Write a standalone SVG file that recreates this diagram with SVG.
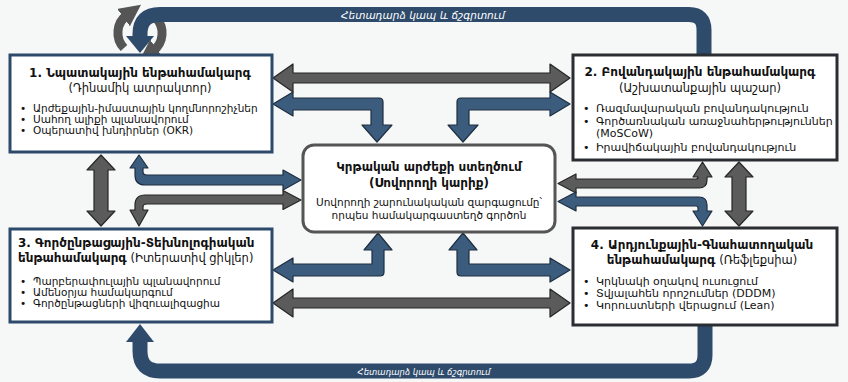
<svg xmlns="http://www.w3.org/2000/svg" width="848" height="382" viewBox="0 0 848 382">
<defs>
<style>
.bg{fill:#f6f7f7}
.boxb{fill:#ffffff;stroke:#2d4a6a;stroke-width:3}
.boxk{fill:#ffffff;stroke:#2a2e33;stroke-width:3}
.core{fill:#ffffff;stroke:#555;stroke-width:3}
.t{font-family:"DejaVu Sans",sans-serif;fill:#111}
.ttl{font-size:12px;font-weight:bold}
.sub{font-size:11.5px}
.li{font-size:10.5px}
.lj{font-size:11px}
.blue{fill:#3c5c7e;stroke:#1e2e40;stroke-width:1.2;stroke-linejoin:round}
.gray{fill:#5b5b5b;stroke:#262626;stroke-width:1.2;stroke-linejoin:round}
.band{fill:none;stroke:#2f4b6c;stroke-width:15}
.lbl{font-family:"DejaVu Sans",sans-serif;fill:#fff;font-style:italic}
.cyc{fill:none;stroke:#555;stroke-width:9}
</style>
<marker id="ch" viewBox="0 0 10 10" refX="2" refY="5" markerWidth="2.4" markerHeight="2.4" orient="auto"><path d="M0,0 L10,5 L0,10 Z" fill="#555"/></marker>
</defs>
<rect class="bg" x="0" y="0" width="848" height="382"/>

<g id="cycle-icon">
<path class="cyc" d="M124,48 A22,22 0 0 1 127,15" marker-end="url(#ch)"/>
<path class="cyc" d="M156,18 A22,22 0 0 1 153,51" marker-end="url(#ch)"/>
</g>

<g id="connectors">
<g id="feedback-top">
<path class="band" d="M704,55 V30 Q704,14.5 689,14.5 H160 Q140,14.5 140,34 V37"/>
<polygon points="126,36 154,36 140,53" fill="#2f4b6c"/>
<text class="lbl" x="423" y="19" font-size="10.5" text-anchor="middle">Հետադարձ կապ և ճշգրտում</text>
</g>
<g id="feedback-bottom">
<path class="band" d="M705,325 V355 Q705,371 689,371 H160 Q140,371 140,351 V341"/>
<polygon points="126,342 154,342 140,324" fill="#2f4b6c"/>
<text class="lbl" x="424" y="375" font-size="8.5" text-anchor="middle">Հետադարձ կապ և ճշգրտում</text>
</g>
<path class="gray" d="M273,78 L293,64 L293,73 L550,73 L550,64 L570,78 L550,92 L550,83 L293,83 L293,92 Z"/>
<path class="gray" d="M273,303 L293,289 L293,298 L550,298 L550,289 L570,303 L550,317 L550,308 L293,308 L293,317 Z"/>
<path class="blue" d="M273,104 L293,92 L293,98 L379,98 Q383,98 383,102 L383,125 L392,125 L377,142 L362,125 L371,125 L371,110 L293,110 L293,116 Z"/>
<path class="blue" d="M570,104 L550,92 L550,98 L461,98 Q457,98 457,102 L457,125 L448,125 L463,142 L478,125 L469,125 L469,110 L550,110 L550,116 Z"/>
<path class="blue" d="M378,233 L392,250 L384,250 L384,272 Q384,276 380,276 L293,276 L293,282 L273,270 L293,258 L293,264 L372,264 L372,250 L364,250 Z"/>
<path class="blue" d="M463,233 L477,250 L469,250 L469,264 L550,264 L550,258 L570,270 L550,282 L550,276 L461,276 Q457,276 457,272 L457,250 L449,250 Z"/>
<path class="blue" d="M139,155 L148,168 L143,168 L143,172 Q143,175 147,175 L283,175 L283,170 L301,180 L283,190 L283,185 L145,185 Q135,185 135,175 L135,168 L130,168 Z"/>
<path class="gray" d="M301,200 L283,190.5 L283,195 L145,195 Q135,195 135,205 L135,210 L130,210 L139,226 L148,210 L143,210 L143,207 Q143,204 147,204 L283,204 L283,209.5 Z"/>
<path class="gray" d="M558,183.5 L576,174 L576,179 L696,179 Q698,179 698,177 L693,177 L702.5,162 L712,177 L707,177 L707,180 Q707,188 699,188 L576,188 L576,193 Z"/>
<path class="blue" d="M558,201.5 L576,192 L576,197 L699,197 Q707,197 707,205 L707,211 L712,211 L702.5,226 L693,211 L698,211 L698,208 Q698,206 696,206 L576,206 L576,211 Z"/>
<path class="gray" d="M101,155 L115,170 L108,170 L108,211 L115,211 L101,226 L87,211 L94,211 L94,170 L87,170 Z"/>
<path class="gray" d="M739,162 L753,177 L746,177 L746,211 L753,211 L739,226 L725,211 L732,211 L732,177 L725,177 Z"/>
</g>

<g id="node1">
<rect class="boxb" x="10" y="55" width="262" height="97"/>
<text class="t ttl" x="140" y="77" text-anchor="middle">1. Նպատակային ենթահամակարգ</text>
<text class="t sub" x="140" y="92" text-anchor="middle">(Դինամիկ ատրակտոր)</text>
<text class="t li" x="20" y="112">•</text><text class="t li" x="33" y="112">Արժեքային-իմաստային կողմնորոշիչներ</text>
<text class="t li" x="20" y="123">•</text><text class="t li" x="33" y="123">Սահող ալիքի պլանավորում</text>
<text class="t li" x="20" y="134">•</text><text class="t li" x="33" y="134">Օպերատիվ խնդիրներ (OKR)</text>
</g>

<g id="node2">
<rect class="boxk" x="573" y="55" width="264" height="105"/>
<text class="t ttl" x="700" y="76" text-anchor="middle">2. Բովանդակային ենթահամակարգ</text>
<text class="t sub" x="700" y="92" text-anchor="middle">(Աշխատանքային պաշար)</text>
<text class="t lj" x="583" y="112">•</text><text class="t lj" x="596" y="112">Ռազմավարական բովանդակություն</text>
<text class="t lj" x="583" y="125">•</text><text class="t lj" x="596" y="125">Գործառնական առաջնահերթություններ</text>
<text class="t lj" x="596" y="137">(MoSCoW)</text>
<text class="t lj" x="583" y="151">•</text><text class="t lj" x="596" y="151">Իրավիճակային բովանդակություն</text>
</g>

<g id="node3">
<rect class="boxb" x="10" y="229" width="262" height="93"/>
<text class="t ttl" x="18" y="247">3. Գործընթացային-Տեխնոլոգիական</text>
<text class="t" x="18" y="262"><tspan class="ttl">ենթահամակարգ</tspan><tspan class="sub"> (Իտերատիվ ցիկլեր)</tspan></text>
<text class="t li" x="20" y="285">•</text><text class="t li" x="33" y="285">Պարբերափուլային պլանավորում</text>
<text class="t li" x="20" y="296">•</text><text class="t li" x="33" y="296">Ամենօրյա համակարգում</text>
<text class="t li" x="20" y="307">•</text><text class="t li" x="33" y="307">Գործընթացների վիզուալիզացիա</text>
</g>

<g id="node4">
<rect class="boxk" x="573" y="228" width="264" height="97"/>
<text class="t ttl" x="702" y="249" text-anchor="middle">4. Արդյունքային-Գնահատողական</text>
<text class="t" x="702" y="264" text-anchor="middle"><tspan class="ttl">ենթահամակարգ</tspan><tspan class="sub"> (Ռեֆլեքսիա)</tspan></text>
<text class="t lj" x="583" y="285">•</text><text class="t lj" x="596" y="285">Կրկնակի օղակով ուսուցում</text>
<text class="t lj" x="583" y="297">•</text><text class="t lj" x="596" y="297">Տվյալահեն որոշումներ (DDDM)</text>
<text class="t lj" x="583" y="309">•</text><text class="t lj" x="596" y="309">Կորուստների վերացում (Lean)</text>
</g>

<g id="core">
<rect class="core" x="303" y="145" width="252" height="87" rx="11"/>
<text class="t ttl" x="429" y="171" text-anchor="middle" font-size="12.5">Կրթական արժեքի ստեղծում</text>
<text class="t ttl" x="429" y="187" text-anchor="middle" font-size="13">(Սովորողի կարիք)</text>
<text class="t li" x="429" y="206" text-anchor="middle">Սովորողի շարունակական զարգացումը՝</text>
<text class="t li" x="429" y="219" text-anchor="middle">որպես համակարգաստեղծ գործոն</text>
</g>
</svg>
